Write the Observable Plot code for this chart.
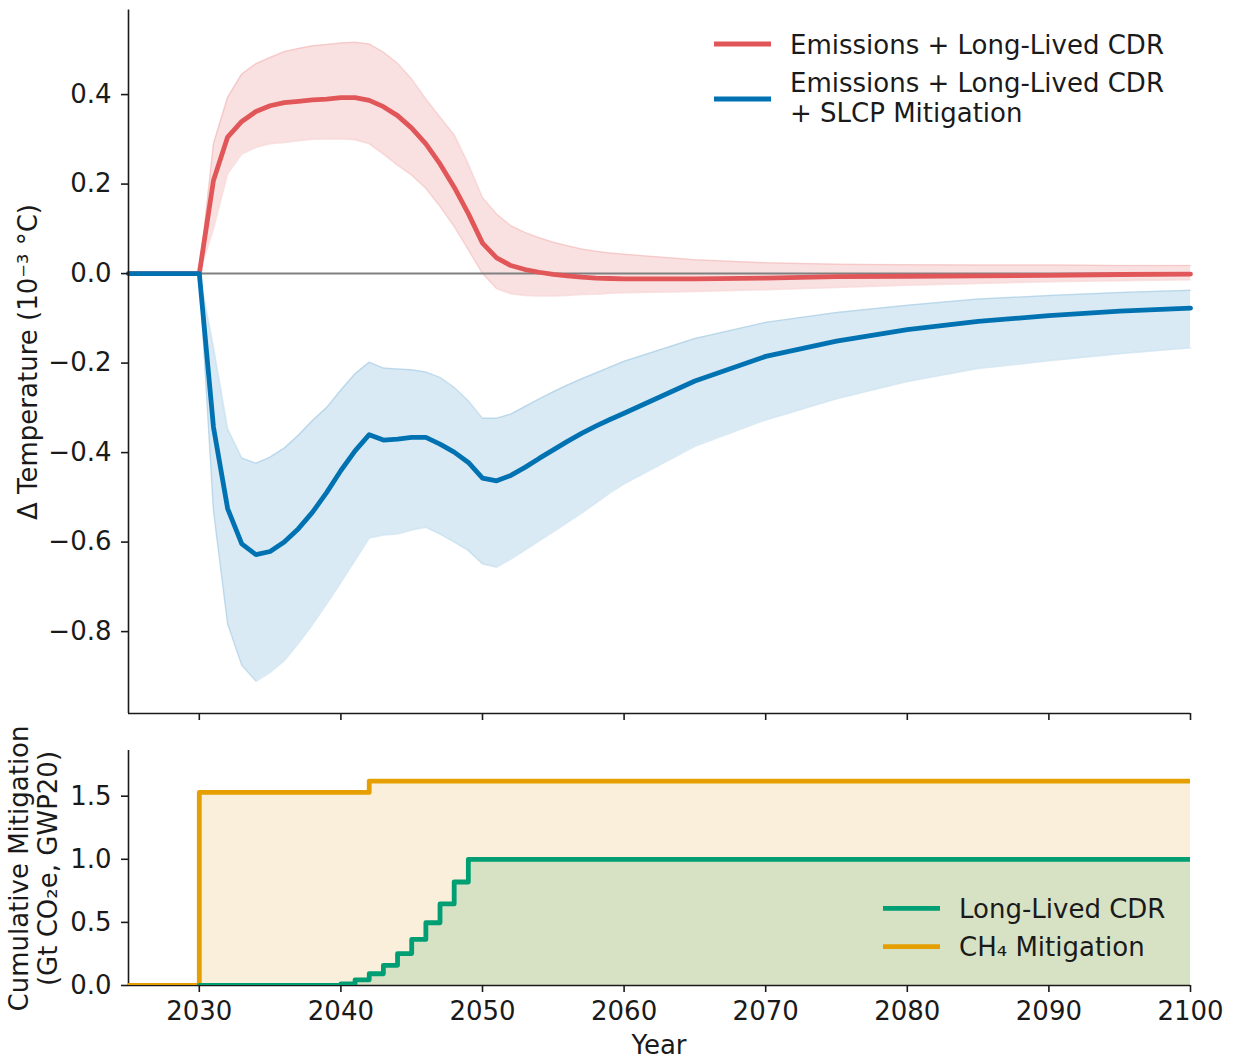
<!DOCTYPE html>
<html>
<head>
<meta charset="utf-8">
<script src="https://cdn.jsdelivr.net/npm/d3@7"></script>
<script src="https://cdn.jsdelivr.net/npm/@observablehq/plot@0.6"></script>
<style>
  html, body { margin: 0; padding: 0; background: white; }
  #wrap { position: relative; width: 1234px; height: 1059px; font-family: "DejaVu Sans", sans-serif; }
  #wrap svg { position: absolute; left: 0; overflow: visible; background: transparent; }
</style>
</head>
<body>
<div id="wrap"></div>
<script>
// ---------- data ----------
const years = [2025, 2030, 2031, 2032, 2033, 2034, 2035, 2036, 2037, 2038, 2039, 2040,
  2041, 2042, 2043, 2044, 2045, 2046, 2047, 2048, 2049, 2050,
  2051, 2052, 2053, 2054, 2055, 2056, 2057, 2058, 2059, 2060,
  2065, 2070, 2075, 2080, 2085, 2090, 2095, 2100];

const redMean = [0, 0, 0.208, 0.305, 0.340, 0.362, 0.375, 0.382, 0.385, 0.388, 0.390, 0.393,
  0.393, 0.387, 0.373, 0.353, 0.325, 0.290, 0.245, 0.193, 0.134, 0.068,
  0.035, 0.018, 0.009, 0.003, -0.002, -0.005, -0.008, -0.010, -0.011, -0.012,
  -0.012, -0.010, -0.007, -0.006, -0.005, -0.004, -0.002, -0.001];
const redLow = [0, 0, 0.100, 0.223, 0.267, 0.282, 0.290, 0.293, 0.297, 0.300, 0.301, 0.301,
  0.299, 0.290, 0.267, 0.242, 0.220, 0.190, 0.150, 0.105, 0.053, 0.000,
  -0.034, -0.045, -0.049, -0.050, -0.050, -0.049, -0.047, -0.046, -0.044, -0.043,
  -0.040, -0.036, -0.031, -0.026, -0.022, -0.018, -0.016, -0.014];
const redHigh = [0, 0, 0.290, 0.394, 0.446, 0.469, 0.483, 0.496, 0.503, 0.509, 0.512, 0.515,
  0.517, 0.513, 0.495, 0.470, 0.435, 0.390, 0.350, 0.310, 0.245, 0.170,
  0.133, 0.107, 0.092, 0.080, 0.070, 0.062, 0.055, 0.050, 0.046, 0.043,
  0.031, 0.024, 0.021, 0.020, 0.019, 0.019, 0.018, 0.018];

const blueMean = [0, 0, -0.343, -0.525, -0.604, -0.628, -0.621, -0.600, -0.570, -0.533, -0.489, -0.440,
  -0.396, -0.360, -0.372, -0.370, -0.366, -0.366, -0.381, -0.399, -0.422, -0.457,
  -0.463, -0.451, -0.433, -0.413, -0.394, -0.375, -0.357, -0.341, -0.326, -0.312,
  -0.240, -0.185, -0.151, -0.125, -0.107, -0.094, -0.084, -0.077];
const blueLow = [0, 0, -0.530, -0.783, -0.876, -0.911, -0.891, -0.865, -0.826, -0.784, -0.738, -0.690,
  -0.641, -0.591, -0.584, -0.582, -0.573, -0.567, -0.582, -0.600, -0.619, -0.649,
  -0.656, -0.638, -0.618, -0.597, -0.577, -0.556, -0.535, -0.513, -0.490, -0.470,
  -0.386, -0.327, -0.280, -0.241, -0.212, -0.195, -0.179, -0.166];
const blueHigh = [0, 0, -0.165, -0.347, -0.412, -0.424, -0.410, -0.390, -0.361, -0.328, -0.299, -0.260,
  -0.224, -0.198, -0.211, -0.213, -0.215, -0.220, -0.232, -0.254, -0.284, -0.323,
  -0.323, -0.314, -0.297, -0.280, -0.264, -0.249, -0.235, -0.222, -0.209, -0.196,
  -0.145, -0.109, -0.087, -0.071, -0.057, -0.049, -0.042, -0.037];

const ch4Years  = [2025, 2030, 2042, 2100];
const ch4Values = [0, 1.53, 1.62, 1.62];
const cdrYears  = [2030, 2040, 2041, 2042, 2043, 2044, 2045, 2046, 2047, 2048, 2049, 2100];
const cdrValues = [0, 0.012, 0.045, 0.093, 0.16, 0.253, 0.365, 0.497, 0.646, 0.82, 1.0, 1.0];

const xTicks = [2030, 2040, 2050, 2060, 2070, 2080, 2090, 2100];
const topYTicks = [-0.8, -0.6, -0.4, -0.2, 0.0, 0.2, 0.4];
const bottomYTicks = [0, 0.5, 1.0, 1.5];

const topLegend = ["Emissions + Long-Lived CDR", ["Emissions + Long-Lived CDR", "+ SLCP Mitigation"]];
const bottomLegend = ["Long-Lived CDR", "CH\u2084 Mitigation"];
const topYLabel = "\u0394 Temperature (10\u207B\u00B3 \u00B0C)";
const bottomYLabel = ["Cumulative Mitigation", "(Gt CO\u2082e, GWP20)"];
const xLabel = "Year";

// ---------- styles ----------
const RED = "#e15759", BLUE = "#0072b2", ORANGE = "#e69f00", GREEN = "#009e73";
const INK = "#1a1a1a";
const FONT = "DejaVu Sans";
const FS = 26;

const topData = years.map((year, i) => ({
  year, red: redMean[i], redLo: redLow[i], redHi: redHigh[i],
  blue: blueMean[i], blueLo: blueLow[i], blueHi: blueHigh[i]
}));
const ch4 = ch4Years.map((year, i) => ({year, value: ch4Values[i]}));
const cdr = cdrYears.map((year, i) => ({year, value: cdrValues[i]}));

const W = 1234, LEFT = 128, RIGHT = 44;
const topDomain = [-0.983, 0.589];
const botDomain = [0, 1.862];
const fmt1 = d3.format(".1f");

const topPlot = Plot.plot({
  width: W, height: 730,
  marginLeft: LEFT, marginRight: RIGHT, marginTop: 9.5, marginBottom: 17,
  style: {fontFamily: FONT, fontSize: FS + "px", color: INK, background: "transparent", overflow: "visible"},
  x: {domain: [2025, 2100]},
  y: {domain: topDomain},
  marks: [
    Plot.areaY(topData, {x: "year", y1: "redLo", y2: "redHi", fill: RED, fillOpacity: 0.18}),
    Plot.line(topData, {x: "year", y: "redLo", stroke: RED, strokeOpacity: 0.18, strokeWidth: 1.5}),
    Plot.line(topData, {x: "year", y: "redHi", stroke: RED, strokeOpacity: 0.18, strokeWidth: 1.5}),
    Plot.areaY(topData, {x: "year", y1: "blueLo", y2: "blueHi", fill: BLUE, fillOpacity: 0.15}),
    Plot.line(topData, {x: "year", y: "blueLo", stroke: BLUE, strokeOpacity: 0.15, strokeWidth: 1.5}),
    Plot.line(topData, {x: "year", y: "blueHi", stroke: BLUE, strokeOpacity: 0.15, strokeWidth: 1.5}),
    Plot.ruleY([0], {stroke: "#808080", strokeWidth: 2}),
    Plot.line(topData, {x: "year", y: "red", stroke: RED, strokeWidth: 4.8}),
    Plot.line(topData, {x: "year", y: "blue", stroke: BLUE, strokeWidth: 4.8}),
    Plot.axisY({ticks: topYTicks, tickFormat: fmt1, tickSize: 7, tickPadding: 10, label: null, stroke: INK, strokeWidth: 1.6}),
    Plot.axisX({ticks: xTicks, tickFormat: () => "", tickSize: 7, label: null, stroke: INK, strokeWidth: 1.6}),
    Plot.ruleX([2025], {stroke: INK, strokeWidth: 1.6}),
    Plot.ruleY([topDomain[0]], {stroke: INK, strokeWidth: 1.6})
  ]
});

const botPlot = Plot.plot({
  width: W, height: 359,
  marginLeft: LEFT, marginRight: RIGHT, marginTop: 50, marginBottom: 74,
  style: {fontFamily: FONT, fontSize: FS + "px", color: INK, background: "transparent", overflow: "visible"},
  x: {domain: [2025, 2100]},
  y: {domain: botDomain},
  marks: [
    Plot.areaY(ch4, {x: "year", y1: 0, y2: "value", curve: "step-after", fill: "#f9efda"}),
    Plot.areaY(cdr, {x: "year", y1: 0, y2: "value", curve: "step-after", fill: "#d7e2c5"}),
    Plot.ruleX([2025], {stroke: INK, strokeWidth: 1.6}),
    Plot.ruleY([0], {stroke: INK, strokeWidth: 1.6}),
    Plot.line(ch4, {x: "year", y: "value", curve: "step-after", stroke: ORANGE, strokeWidth: 4.8, clip: true}),
    Plot.line(cdr, {x: "year", y: "value", curve: "step-after", stroke: GREEN, strokeWidth: 4.8, clip: true}),
    Plot.axisY({ticks: bottomYTicks, tickFormat: fmt1, tickSize: 7, tickPadding: 10, label: null, stroke: INK, strokeWidth: 1.6}),
    Plot.axisX({ticks: xTicks, tickFormat: d => String(d), tickSize: 7, tickPadding: 9, label: null, stroke: INK, strokeWidth: 1.6})
  ]
});

const wrap = document.getElementById("wrap");
botPlot.style.top = "700px";
topPlot.style.top = "0px";
wrap.appendChild(botPlot);
wrap.appendChild(topPlot);

// ---------- labels & legends ----------
function txt(sel, x, y, s, opts = {}) {
  return sel.append("text").attr("x", x).attr("y", y).text(s)
    .attr("font-family", FONT).attr("font-size", FS).attr("fill", INK)
    .attr("text-anchor", opts.anchor || "start");
}
function vtxt(sel, x, y, s) {
  return sel.append("text")
    .attr("transform", `translate(${x},${y}) rotate(-90)`)
    .attr("text-anchor", "middle").attr("dominant-baseline", "central")
    .attr("font-family", FONT).attr("font-size", FS).attr("fill", INK)
    .text(s);
}
const ts = d3.select(topPlot);
vtxt(ts, 28, 362, topYLabel);
ts.append("line").attr("x1", 714).attr("x2", 771).attr("y1", 44).attr("y2", 44)
  .attr("stroke", RED).attr("stroke-width", 4.8);
txt(ts, 790, 53.5, topLegend[0]);
ts.append("line").attr("x1", 714).attr("x2", 771).attr("y1", 99).attr("y2", 99)
  .attr("stroke", BLUE).attr("stroke-width", 4.8);
txt(ts, 790, 92, topLegend[1][0]);
txt(ts, 790, 122, topLegend[1][1]);

const bs = d3.select(botPlot);
vtxt(bs, 19, 168.5, bottomYLabel[0]);
vtxt(bs, 48, 168.5, bottomYLabel[1]);
txt(bs, 659, 354, xLabel, {anchor: "middle"});
bs.append("line").attr("x1", 883).attr("x2", 940).attr("y1", 208.3).attr("y2", 208.3)
  .attr("stroke", GREEN).attr("stroke-width", 4.8);
txt(bs, 959, 217.5, bottomLegend[0]);
bs.append("line").attr("x1", 883).attr("x2", 940).attr("y1", 246.7).attr("y2", 246.7)
  .attr("stroke", ORANGE).attr("stroke-width", 4.8);
txt(bs, 959, 256, bottomLegend[1]);
</script>
</body>
</html>
